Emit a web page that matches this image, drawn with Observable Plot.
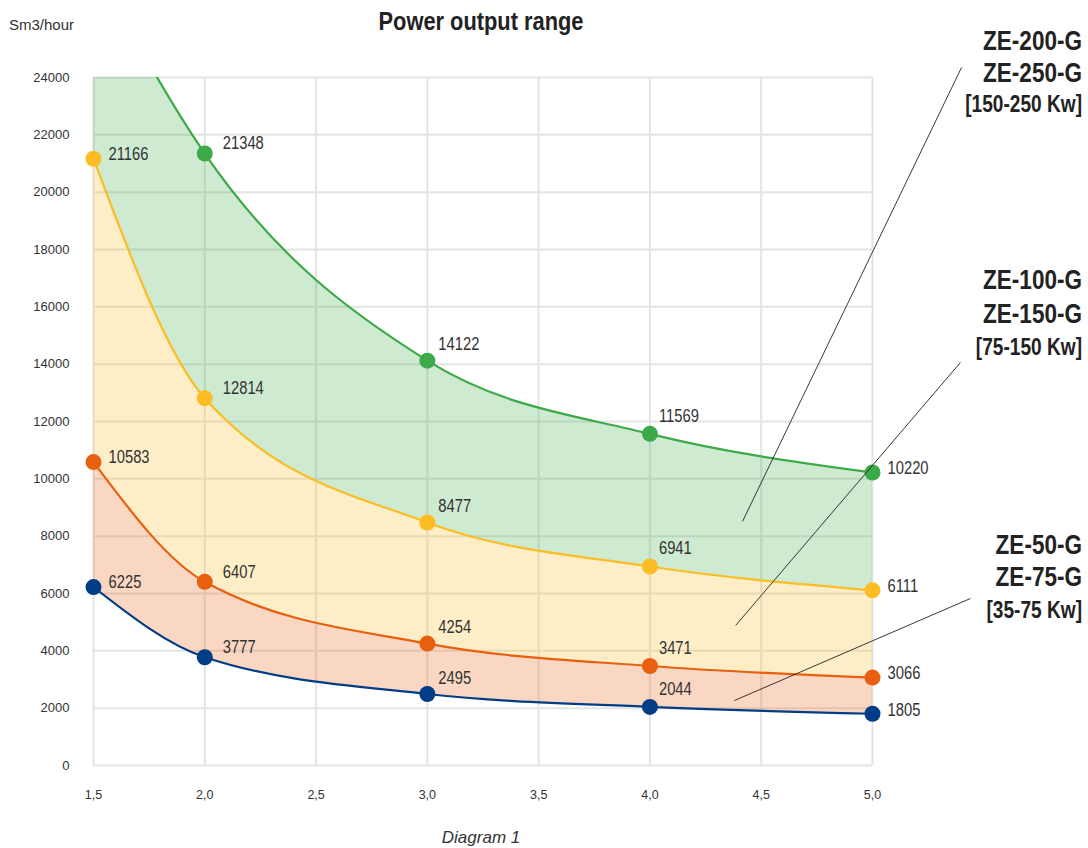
<!DOCTYPE html>
<html><head><meta charset="utf-8">
<script src="https://cdn.jsdelivr.net/npm/d3@7"></script>
<script src="https://cdn.jsdelivr.net/npm/@observablehq/plot@0.6"></script>
<style>
html,body{margin:0;padding:0;background:#fff;}
#chart{position:relative;width:1088px;height:848px;}
</style></head><body><div id="chart"></div>
<script>
// ---- data ----
const xValues = [1.5, 2.0, 3.0, 4.0, 5.0];
const blueValues = [6225, 3777, 2495, 2044, 1805];
const orangeValues = [10583, 6407, 4254, 3471, 3066];
const yellowValues = [21166, 12814, 8477, 6941, 6111];
// the first green value lies above the top of the axis and carries no label: estimated
const greenValues = [28000, 21348, 14122, 11569, 10220];
const greenLabelled = [false, true, true, true, true];
const xTicks = [1.5, 2.0, 2.5, 3.0, 3.5, 4.0, 4.5, 5.0];
const yTicks = [0, 2000, 4000, 6000, 8000, 10000, 12000, 14000, 16000, 18000, 20000, 22000, 24000];
const bandNames = [
  ["ZE-200-G", "ZE-250-G", "[150-250 Kw]"],
  ["ZE-100-G", "ZE-150-G", "[75-150 Kw]"],
  ["ZE-50-G", "ZE-75-G", "[35-75 Kw]"]
];
// pointer lines from the band names into the bands (data units)
const pointerFromX = [5.40, 5.395, 5.44];
const pointerFromY = [24349, 14058, 5826];
const pointerToX = [4.416, 4.385, 4.38];
const pointerToY = [8512, 4884, 2267];
const titleText = "Power output range";
const unitText = "Sm3/hour";
const captionText = "Diagram 1";

// ---- styling ----
const colors = {blue: "#003d86", orange: "#e8600f", yellow: "#fbbd23", green: "#3caa48"};
const font = '"Liberation Sans",Arial,sans-serif';
const squeeze = 0.82; // the reference uses a condensed face
const curve = "monotone-x";
const labelOffsets = {1.5: [15, -5], 2: [18, -10], 3: [11, -16], 4: [9, -18], 5: [15, -4]};

const rows = xValues.map((x, i) => ({x, blue: blueValues[i], orange: orangeValues[i], yellow: yellowValues[i], green: greenValues[i]}));
const seriesList = [
  {key: "blue", values: blueValues, shown: blueValues.map(() => true)},
  {key: "orange", values: orangeValues, shown: orangeValues.map(() => true)},
  {key: "yellow", values: yellowValues, shown: yellowValues.map(() => true)},
  {key: "green", values: greenValues, shown: greenLabelled}
];
const points = seriesList.flatMap(s => xValues.map((x, i) => ({x, y: s.values[i], key: s.key, shown: s.shown[i]}))).filter(d => d.shown);
const pointers = pointerFromX.map((x1, i) => ({x1, y1: pointerFromY[i], x2: pointerToX[i], y2: pointerToY[i]}));

const bands = [["blue", "orange", "orange"], ["orange", "yellow", "yellow"], ["yellow", "green", "green"]];

const marks = [
  Plot.gridX(xTicks, {stroke: "#e4e4e4", strokeOpacity: 1, strokeWidth: 2}),
  Plot.gridY(yTicks, {stroke: "#e4e4e4", strokeOpacity: 1, strokeWidth: 2}),
  ...bands.map(([lo, hi, c]) => Plot.areaY(rows, {x: "x", y1: lo, y2: hi, fill: colors[c], fillOpacity: 0.25, curve, clip: true})),
  ...seriesList.map(s => Plot.line(rows, {x: "x", y: s.key, stroke: colors[s.key], strokeWidth: 2.2, curve, clip: true})),
  ...seriesList.map(s => Plot.dot(points.filter(d => d.key === s.key), {x: "x", y: "y", r: 8, fill: colors[s.key], stroke: null})),
  ...xValues.map(xv => Plot.text(points.filter(d => d.x === xv), {
    x: "x", y: "y", text: d => String(d.y), textAnchor: "start",
    dx: labelOffsets[xv][0], dy: labelOffsets[xv][1], fontSize: 18, fill: "#333"
  })),
  Plot.link(pointers, {x1: "x1", y1: "y1", x2: "x2", y2: "y2", stroke: "#222", strokeWidth: 0.9, clip: false}),
  Plot.axisX(xTicks, {tickSize: 0, tickPadding: 25, tickFormat: d => d.toFixed(1).replace(".", ","), fill: "#333", label: null}),
  Plot.axisY(yTicks, {tickSize: 0, tickPadding: 24, tickFormat: d => String(d), fill: "#333", label: null})
];

const plot = Plot.plot({
  width: 1088, height: 848,
  marginLeft: 93, marginRight: 216, marginTop: 77, marginBottom: 83,
  style: {fontFamily: font, fontSize: "13px", color: "#333", background: "#fff", overflow: "visible"},
  x: {domain: [1.5, 5]},
  y: {domain: [0, 24000]},
  marks
});
document.getElementById("chart").appendChild(plot);

const svg = d3.select(plot);
svg.selectAll('g[aria-label="x-axis tick label"]').attr("font-size", 12.5);
svg.selectAll('g[aria-label="y-axis tick label"]').attr("font-size", 13);

// condense the value labels without touching their positions
svg.selectAll('g[aria-label="text"] text').each(function() {
  const len = this.getComputedTextLength();
  if (len > 0) {
    this.setAttribute("textLength", (len * squeeze).toFixed(2));
    this.setAttribute("lengthAdjust", "spacingAndGlyphs");
  }
});

function addText(x, y, txt, opts) {
  const el = svg.append("text")
    .attr("transform", `translate(${x},${y}) scale(${opts.scale || 1},1)`)
    .attr("text-anchor", opts.anchor || "start")
    .attr("font-family", font)
    .attr("font-size", opts.size)
    .attr("fill", opts.fill || "#333")
    .text(txt);
  if (opts.bold) el.attr("font-weight", "bold");
  if (opts.italic) el.attr("font-style", "italic");
  return el;
}
addText(481, 30, titleText, {anchor: "middle", size: 26, bold: true, scale: 0.84, fill: "#222"});
addText(9, 30, unitText, {size: 15});
addText(481, 843, captionText, {anchor: "middle", size: 17, italic: true});
const bandBaselines = [[50, 82, 112], [289, 323, 355], [554, 586, 618]];
bandNames.forEach((lines, g) => {
  lines.forEach((t, j) => {
    addText(1082, bandBaselines[g][j], t, {anchor: "end", size: j < 2 ? 27.5 : 23.3, bold: true, scale: squeeze, fill: "#222"});
  });
});
</script></body></html>
